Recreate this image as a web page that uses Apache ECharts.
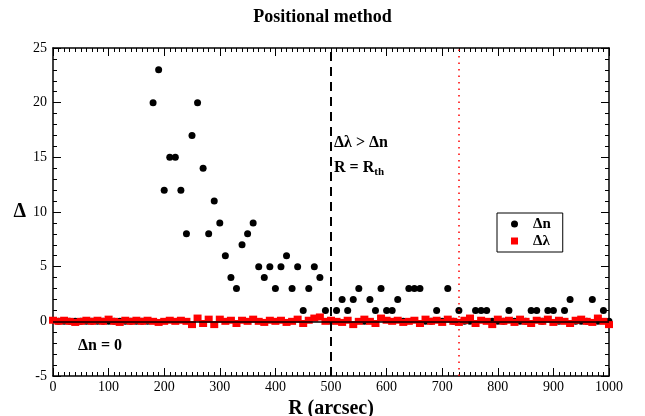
<!DOCTYPE html>
<html><head><meta charset="utf-8">
<script src="https://cdn.jsdelivr.net/npm/echarts@6/dist/echarts.min.js"></script>
<style>html,body{margin:0;padding:0;background:#fff}#c{width:645px;height:416px}</style>
</head><body><div id="c"></div>
<script>
// R (arcsec) for the Δn series, every 10 arcsec
const rDn = [10,20,30,40,50,60,70,80,90,100,110,120,130,140,150,160,170,180,190,200,
210,220,230,240,250,260,270,280,290,300,310,320,330,340,350,360,370,380,390,400,
410,420,430,440,450,460,470,480,490,500,510,520,530,540,550,560,570,580,590,600,
610,620,630,640,650,660,670,680,690,700,710,720,730,740,750,760,770,780,790,800,
810,820,830,840,850,860,870,880,890,900,910,920,930,940,950,960,970,980,990,1000];
const dn = [0,0,0,0,0,0,0,0,0,0,0,0,0,0,0,0,0,20,23,12,
15,15,12,8,17,20,14,8,11,9,6,4,3,7,8,9,5,4,5,3,
5,6,3,5,1,3,5,4,1,0,1,2,1,2,3,0,2,1,3,1,
1,2,0,3,3,3,0,0,1,0,3,0,1,0,0,1,1,1,0,0,
0,1,0,0,0,1,1,0,1,1,0,1,2,0,0,0,2,0,1,0];
// R (arcsec) for the Δλ series
const rDl = [0,10,20,30,40,50,60,70,80,90,100,110,120,130,140,150,160,170,180,190,200,
210,220,230,240,250,260,270,280,290,300,310,320,330,340,350,360,370,380,390,400,
410,420,430,440,450,460,470,480,490,500,510,520,530,540,550,560,570,580,590,600,
610,620,630,640,650,660,670,680,690,700,710,720,730,740,750,760,770,780,790,800,
810,820,830,840,850,860,870,880,890,900,910,920,930,940,950,960,970,980,990,1000];
const dl = [0.1,0.0,0.1,0.0,-0.1,0.0,0.1,0.0,0.1,0.0,0.2,
0.0,-0.1,0.1,0.0,0.1,0.0,0.1,0.0,-0.1,0.0,
0.1,0.0,0.1,0.0,-0.3,0.3,-0.2,0.2,-0.3,0.2,
0.0,0.1,-0.2,0.1,0.0,0.2,0.0,-0.1,0.1,0.0,
0.1,-0.1,0.0,0.2,-0.2,0.1,0.3,0.4,0.0,0.1,
0.0,-0.1,0.1,-0.3,0.0,0.2,0.0,-0.2,0.3,0.1,
0.0,0.1,-0.1,0.0,0.1,-0.2,0.2,0.0,0.1,-0.1,
0.2,0.0,-0.1,0.1,0.3,-0.2,0.1,0.0,-0.3,0.2,
0.0,0.1,-0.1,0.2,0.0,-0.2,0.1,0.0,0.2,-0.1,
0.1,0.0,-0.2,0.1,0.2,0.0,-0.1,0.3,0.0,-0.3];
const xTicks = {min:0, max:1000, step:100};
const yTicks = {min:-5, max:25, step:5};
const vLines = [500, 730];

const serif = '"Liberation Serif","DejaVu Serif",serif';
const chart = echarts.init(document.getElementById('c'));
const line = {show:true,onZero:false,lineStyle:{color:'#000',width:1.5}};
const tick = {show:true,inside:true,length:8,lineStyle:{color:'#000',width:1}};
const mtick = n => ({show:true,splitNumber:n,length:4,lineStyle:{color:'#000',width:1}});
const noSplit = {show:false};
chart.setOption({
  animation:false,
  title:{text:'Positional method',left:'center',top:3,
    textStyle:{fontFamily:serif,fontWeight:'bold',fontSize:18,color:'#000'}},
  grid:{left:53,right:36,top:48,bottom:40,containLabel:false,outerBoundsMode:'none'},
  legend:{orient:'vertical',left:497,top:213,padding:[3,12,3,14],itemGap:1,
    borderColor:'#000',borderWidth:1,itemWidth:7,itemHeight:7,
    textStyle:{fontFamily:serif,fontWeight:'bold',fontSize:15,color:'#000',lineHeight:16,padding:[0,0,0,10]},
    data:[{name:'Δn',icon:'circle'},{name:'Δλ',icon:'rect'}]},
  xAxis:[
    {type:'value',min:xTicks.min,max:xTicks.max,interval:xTicks.step,
      axisLine:line,axisTick:tick,minorTick:mtick(10),splitLine:noSplit,minorSplitLine:noSplit,
      axisLabel:{fontFamily:serif,fontSize:14,color:'#000',margin:4,formatter:v=>String(v)},
      name:'R (arcsec)',nameLocation:'middle',nameGap:17,
      nameTextStyle:{fontFamily:serif,fontWeight:'bold',fontSize:20,color:'#000'}},
    {type:'value',position:'top',min:xTicks.min,max:xTicks.max,interval:xTicks.step,
      axisLine:line,axisTick:tick,minorTick:mtick(10),splitLine:noSplit,minorSplitLine:noSplit,
      axisLabel:{show:false}}
  ],
  yAxis:[
    {type:'value',min:yTicks.min,max:yTicks.max,interval:yTicks.step,
      axisLine:line,axisTick:tick,minorTick:mtick(5),splitLine:noSplit,minorSplitLine:noSplit,
      axisLabel:{fontFamily:serif,fontSize:14,color:'#000',margin:6},
      name:'Δ',nameLocation:'middle',nameGap:27,nameRotate:0,
      nameTextStyle:{fontFamily:serif,fontWeight:'bold',fontSize:20,color:'#000'}},
    {type:'value',position:'right',min:yTicks.min,max:yTicks.max,interval:yTicks.step,
      axisLine:line,axisTick:tick,minorTick:mtick(5),splitLine:noSplit,minorSplitLine:noSplit,
      axisLabel:{show:false}}
  ],
  series:[
    {name:'Δn',type:'scatter',symbol:'circle',symbolSize:7,z:2,
      itemStyle:{color:'#000',opacity:1},
      data:rDn.map((r,i)=>[r,dn[i]])},
    {name:'Δλ',type:'scatter',symbol:'rect',symbolSize:[8,7],z:3,
      itemStyle:{color:'#ff0000',opacity:1},
      data:rDl.map((r,i)=>[r,dl[i]]),
      markLine:{silent:true,symbol:'none',label:{show:false},z:5,
        data:[
          {yAxis:0,lineStyle:{color:'#000',width:1.5,type:'solid'}},
          {xAxis:vLines[0],lineStyle:{color:'#000',width:2,type:[9,6]}},
          {xAxis:vLines[1],lineStyle:{color:'#ff0000',width:1.5,type:[1.5,5]}}
        ]}}
  ],
  graphic:[
    {type:'text',left:334,top:135,style:{text:'Δλ > Δn',fontFamily:serif,fontWeight:'bold',fontSize:16,fill:'#000'}},
    {type:'text',left:334,top:160,style:{text:'{a|R = R}{s|th}',
      rich:{a:{fontFamily:serif,fontWeight:'bold',fontSize:16,fill:'#000'},
            s:{fontFamily:serif,fontWeight:'bold',fontSize:11,fill:'#000',verticalAlign:'bottom',padding:[8,0,0,0]}}}},
    {type:'text',left:78,top:338,style:{text:'Δn = 0',fontFamily:serif,fontWeight:'bold',fontSize:16,fill:'#000'}}
  ]
});
</script></body></html>
